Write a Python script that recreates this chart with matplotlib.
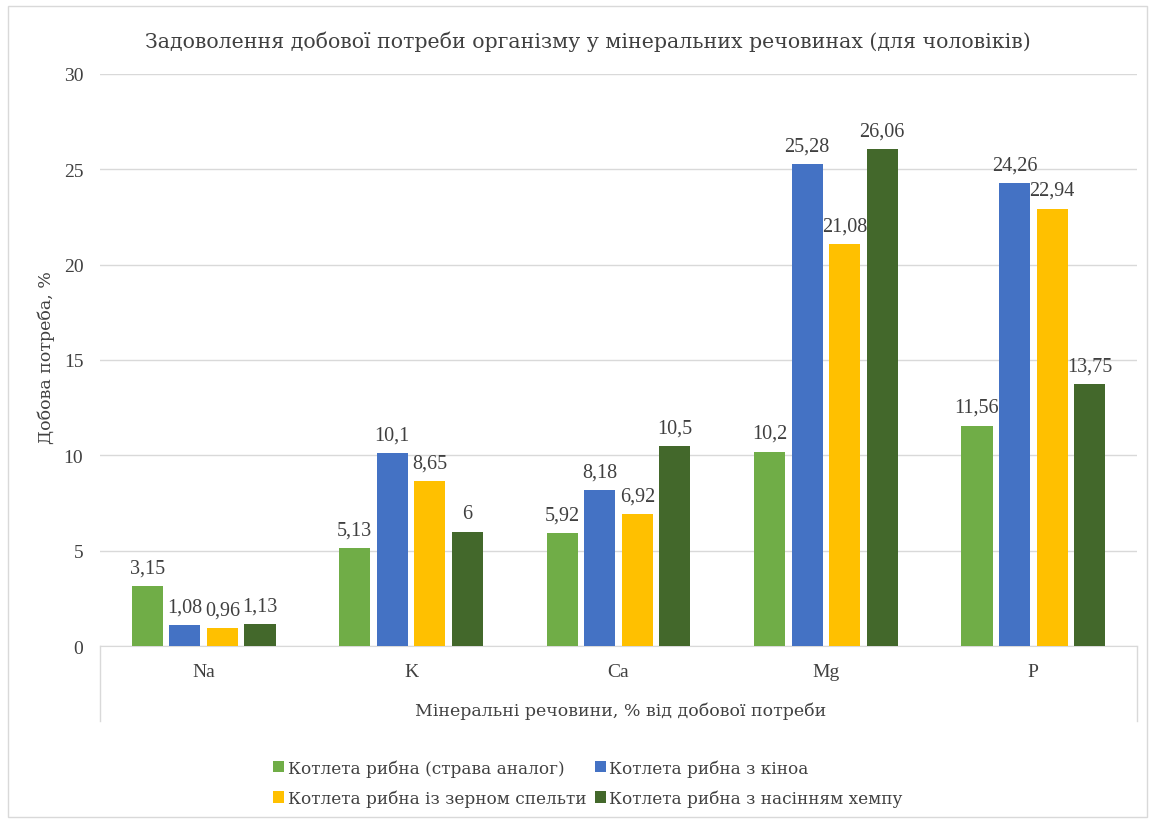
import matplotlib
matplotlib.use("Agg")
import matplotlib.pyplot as plt
import numpy as np
from matplotlib.lines import Line2D
from matplotlib.patches import Rectangle

categories = ["Na", "K", "Ca", "Mg", "P"]
series_names = [
    "Котлета рибна (страва аналог)",
    "Котлета рибна з кіноа",
    "Котлета рибна із зерном спельти",
    "Котлета рибна з насінням хемпу",
]
s1 = [3.15, 5.13, 5.92, 10.2, 11.56]
s2 = [1.08, 10.1, 8.18, 25.28, 24.26]
s3 = [0.96, 8.65, 6.92, 21.08, 22.94]
s4 = [1.13, 6, 10.5, 26.06, 13.75]
series = [s1, s2, s3, s4]
colors = ["#70AD47", "#4472C4", "#FFC000", "#43682B"]

FAM = ['Liberation Serif', 'DejaVu Serif']
CYR = ['DejaVu Serif']
plt.rcParams['font.family'] = FAM
txt = "#404040"

fig = plt.figure(figsize=(11.55, 8.2), dpi=100)
W, H = 1155, 820
ax = fig.add_axes([100 / W, 1 - 647 / H, (1137 - 100) / W, (647 - 75) / H])

x = np.arange(len(categories))
bw = 0.15
step = 0.181
for i, (vals, c) in enumerate(zip(series, colors)):
    pos = x + (i - 1.5) * step
    bars = ax.bar(pos, vals, width=bw, color=c, label=series_names[i], zorder=3)
    for b, v in zip(bars, vals):
        lab = ("%g" % v).replace(".", ",")
        ax.text(b.get_x() + b.get_width() / 2, v + 0.45, lab, ha="center", va="bottom",
                fontsize=14.5, color=txt, zorder=4, family=FAM)

ax.set_xlim(-0.5, len(categories) - 0.5)
ax.set_ylim(0, 30)
ax.set_yticks(range(0, 31, 5))
ax.yaxis.grid(True, color="#D9D9D9", linewidth=1, zorder=0)
ax.set_axisbelow(True)
for s in ["top", "right", "left"]:
    ax.spines[s].set_visible(False)
ax.spines["bottom"].set_color("#D9D9D9")
ax.tick_params(axis="both", length=0, labelsize=14, colors=txt)
ax.tick_params(axis="y", pad=12)
ax.tick_params(axis="x", pad=12)
ax.set_xticks(x)
ax.set_xticklabels(categories)

# Excel-style box lines around the category axis area
for xf in [100 / W, 1137 / W]:
    fig.add_artist(Line2D([xf, xf], [1 - 647 / H, 1 - 722 / H], color="#D9D9D9", lw=1))

fig.text(588 / W, 1 - 42 / H, "Задоволення добової потреби організму у мінеральних речовинах (для чоловіків)",
         ha="center", va="center", fontsize=14.8, color=txt, family=CYR)
fig.text(621 / W, 1 - 711 / H, "Мінеральні речовини, % від добової потреби",
         ha="center", va="center", fontsize=12.5, color=txt, family=CYR)
fig.text(46 / W, 1 - 358 / H, "Добова потреба, %", rotation=90,
         ha="center", va="center", fontsize=12.5, color=txt, family=CYR)

handles, labels = ax.get_legend_handles_labels()
order = [0, 2, 1, 3]
leg = fig.legend([handles[i] for i in order], [labels[i] for i in order], ncol=2,
                 loc="center", bbox_to_anchor=(588 / W, 1 - 784 / H), frameon=False,
                 prop={'family': CYR, 'size': 12.2}, handlelength=0.65, handleheight=0.65,
                 handletextpad=0.2, columnspacing=0.5, labelspacing=0.75)
for t in leg.get_texts():
    t.set_color(txt)

fig.add_artist(Rectangle((8 / W, 0.003), 1 - 16 / W, 1 - 7 / H - 0.003, transform=fig.transFigure,
                         fill=False, edgecolor="#D9D9D9", lw=1))

fig.savefig("out.png", dpi=100, facecolor="white")
